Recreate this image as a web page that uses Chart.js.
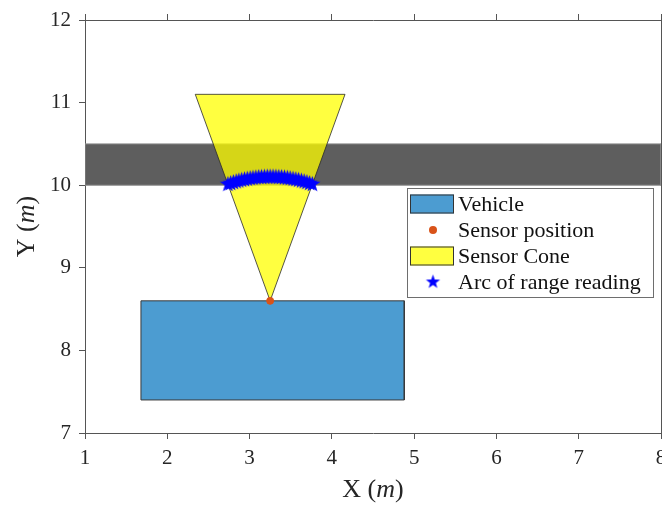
<!DOCTYPE html>
<html>
<head>
<meta charset="utf-8">
<script src="https://cdn.jsdelivr.net/npm/chart.js@4.4.1/dist/chart.umd.min.js"></script>
<style>
  html, body { margin: 0; padding: 0; background: #fff; }
  #wrap { position: relative; width: 662px; height: 506px; }
</style>
</head>
<body>
<div id="wrap"><canvas id="chart" width="662" height="506"></canvas></div>
<script>
// Values (metres).
const xTicks = [1, 2, 3, 4, 5, 6, 7, 8];
const yTicks = [7, 8, 9, 10, 11, 12];

const vehicleX = [1.68, 1.68, 4.88, 4.88, 1.68];
const vehicleY = [7.4, 8.6, 8.6, 7.4, 7.4];

const sensorX = [3.25];
const sensorY = [8.6];

const coneX = [3.25, 2.34, 4.16, 3.25];
const coneY = [8.6, 11.1, 11.1, 8.6];

const wallX = [1, 1, 8, 8, 1];
const wallY = [10, 10.5, 10.5, 10, 10];

const arcX = [2.737, 2.770, 2.803, 2.837, 2.870, 2.904, 2.938, 2.972, 3.007, 3.041,
  3.076, 3.111, 3.145, 3.180, 3.215, 3.250, 3.285, 3.320, 3.355, 3.389,
  3.424, 3.459, 3.493, 3.528, 3.562, 3.596, 3.630, 3.663, 3.697, 3.730, 3.763];
const arcY = [10.010, 10.021, 10.032, 10.042, 10.051, 10.060, 10.067, 10.074, 10.080, 10.085,
  10.090, 10.094, 10.096, 10.098, 10.100, 10.100, 10.100, 10.098, 10.096, 10.094,
  10.090, 10.085, 10.080, 10.074, 10.067, 10.060, 10.051, 10.042, 10.032, 10.021, 10.010];

const legendLabels = ['Vehicle', 'Sensor position', 'Sensor Cone', 'Arc of range reading'];

const serif = "'Liberation Serif', 'DejaVu Serif', serif";
const textColor = '#262626';
const axisColor = '#555';

function pts(xs, ys) {
  return xs.map((x, i) => ({x, y: ys[i]}));
}

// filled five point star, like the MATLAB pentagram marker
function makeStar(r, color) {
  const c = document.createElement('canvas');
  const s = Math.ceil(r * 2 + 2);
  c.width = s;
  c.height = s;
  const g = c.getContext('2d');
  g.translate(s / 2, s / 2);
  g.beginPath();
  for (let k = 0; k < 10; k++) {
    const rr = k % 2 === 0 ? r : r * 0.4;
    const a = -Math.PI / 2 + k * Math.PI / 5;
    g.lineTo(rr * Math.cos(a), rr * Math.sin(a));
  }
  g.closePath();
  g.fillStyle = color;
  g.fill();
  return c;
}
const starImg = makeStar(8.5, '#0000ff');
const legendStar = makeStar(7.5, '#0000ff');

const datasets = [
  {
    label: legendLabels[3],
    data: pts(arcX, arcY),
    showLine: false,
    pointStyle: starImg,
    pointRadius: 8,
    order: 0,
  },
  {
    label: legendLabels[1],
    data: pts(sensorX, sensorY),
    showLine: false,
    pointStyle: 'circle',
    pointRadius: 3.5,
    borderWidth: 1,
    borderColor: '#d95319',
    backgroundColor: '#d95319',
    order: 1,
  },
  {
    label: legendLabels[2],
    data: pts(coneX, coneY),
    showLine: true,
    fill: 'shape',
    backgroundColor: 'rgba(255,255,0,0.75)',
    borderColor: '#2a2a2a',
    borderWidth: 0.8,
    pointRadius: 0,
    tension: 0,
    order: 2,
  },
  {
    label: 'wall',
    data: pts(wallX, wallY),
    showLine: true,
    fill: 'shape',
    backgroundColor: '#5e5e5e',
    borderColor: '#8c8c8c',
    borderWidth: 1,
    pointRadius: 0,
    order: 3,
  },
  {
    label: legendLabels[0],
    data: pts(vehicleX, vehicleY),
    showLine: true,
    fill: 'shape',
    backgroundColor: 'rgba(0,114,189,0.7)',
    borderColor: '#3a3a3a',
    borderWidth: 1,
    pointRadius: 0,
    order: 4,
  },
];

function setTicks(list) {
  return (s) => { s.ticks = list.map((v) => ({value: v})); };
}

const gridOpts = {drawOnChartArea: false, color: axisColor, tickLength: 6, lineWidth: 1};
const tickFont = {family: serif, size: 21};

// legend box drawn inside the plot, MATLAB style
const boxLegend = {
  id: 'boxLegend',
  afterDatasetsDraw(chart) {
    const {ctx, chartArea} = chart;
    const w = 246;
    const h = 109;
    const left = chartArea.right - 8 - w;
    const top = chartArea.top + 168;
    const ds = chart.data.datasets;
    const byLabel = (l) => ds.find((d) => d.label === l);
    ctx.save();
    ctx.fillStyle = '#fff';
    ctx.fillRect(left, top, w, h);
    ctx.strokeStyle = '#6e6e6e';
    ctx.lineWidth = 1;
    ctx.strokeRect(left + 0.5, top + 0.5, w, h);
    ctx.font = '22px ' + serif;
    ctx.textBaseline = 'middle';
    legendLabels.forEach((label, i) => {
      const cy = top + 16 + i * 26;
      const d = byLabel(label);
      if (d.fill) {
        ctx.fillStyle = '#fff';
        ctx.fillRect(left + 3, cy - 9.5, 44, 19);
        ctx.fillStyle = d.backgroundColor;
        ctx.fillRect(left + 3, cy - 9.5, 44, 19);
        ctx.strokeStyle = '#333';
        ctx.lineWidth = 1;
        ctx.strokeRect(left + 3.5, cy - 9, 43, 18);
      } else if (d.pointStyle === starImg) {
        ctx.drawImage(legendStar, left + 26 - legendStar.width / 2, cy - legendStar.height / 2);
      } else {
        ctx.beginPath();
        ctx.arc(left + 26, cy, 4, 0, Math.PI * 2);
        ctx.fillStyle = d.backgroundColor;
        ctx.fill();
      }
      ctx.fillStyle = '#111';
      ctx.fillText(label, left + 51, cy + 1);
    });
    ctx.restore();
  },
};

// axis titles with italic unit, as in the LaTeX labels
function drawParts(ctx, parts, x, y, size) {
  const fonts = parts.map((p) => (p[1] ? 'italic ' : '') + size + 'px ' + serif);
  let total = 0;
  parts.forEach((p, i) => { ctx.font = fonts[i]; total += ctx.measureText(p[0]).width; });
  let cx = x - total / 2;
  parts.forEach((p, i) => {
    ctx.font = fonts[i];
    ctx.fillText(p[0], cx, y);
    cx += ctx.measureText(p[0]).width;
  });
}

const axisTitles = {
  id: 'axisTitles',
  afterDraw(chart) {
    const {ctx, chartArea} = chart;
    ctx.save();
    ctx.fillStyle = textColor;
    ctx.textBaseline = 'middle';
    ctx.textAlign = 'left';
    drawParts(ctx, [['X (', false], ['m', true], [')', false]], (chartArea.left + chartArea.right) / 2, 490, 26);
    ctx.translate(27, (chartArea.top + chartArea.bottom) / 2);
    ctx.rotate(-Math.PI / 2);
    drawParts(ctx, [['Y (', false], ['m', true], [')', false]], 0, 0, 26);
    ctx.restore();
  },
};

function noPad(size, isX) {
  return (s) => {
    if (isX) s.height = size; else s.width = size;
    s.paddingLeft = 0;
    s.paddingRight = 0;
    s.paddingTop = 0;
    s.paddingBottom = 0;
  };
}

new Chart(document.getElementById('chart'), {
  type: 'scatter',
  data: {datasets},
  options: {
    responsive: false,
    animation: false,
    events: [],
    layout: {padding: 0, autoPadding: false},
    plugins: {legend: {display: false}, tooltip: {enabled: false}},
    scales: {
      x: {
        type: 'linear', position: 'bottom', min: 1, max: 8,
        afterBuildTicks: setTicks(xTicks),
        afterFit: noPad(73, true),
        grid: gridOpts,
        border: {color: axisColor},
        ticks: {font: tickFont, color: textColor, padding: 7, maxRotation: 0},
      },
      x2: {
        type: 'linear', position: 'top', min: 1, max: 8,
        afterBuildTicks: setTicks(xTicks),
        afterFit: noPad(20, true),
        grid: gridOpts,
        border: {color: axisColor},
        ticks: {display: false},
      },
      y: {
        type: 'linear', position: 'left', min: 7, max: 12,
        afterBuildTicks: setTicks(yTicks),
        afterFit: noPad(85, false),
        grid: gridOpts,
        border: {color: axisColor},
        ticks: {font: tickFont, color: textColor, padding: 8},
      },
      y2: {
        type: 'linear', position: 'right', min: 7, max: 12,
        afterBuildTicks: setTicks(yTicks),
        afterFit: noPad(1, false),
        grid: gridOpts,
        border: {color: axisColor},
        ticks: {display: false},
      },
    },
  },
  plugins: [boxLegend, axisTitles],
});
</script>
</body>
</html>
